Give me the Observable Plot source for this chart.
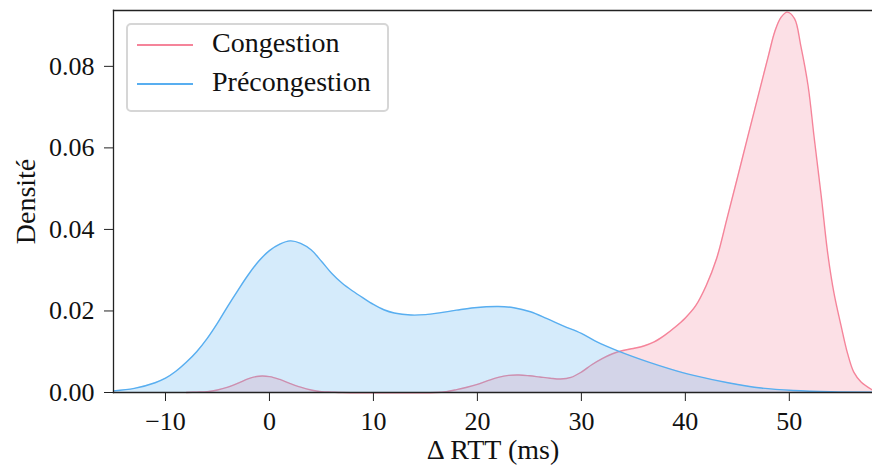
<!DOCTYPE html>
<html>
<head>
<meta charset="utf-8">
<script src="https://cdn.jsdelivr.net/npm/d3@7"></script>
<script src="https://cdn.jsdelivr.net/npm/@observablehq/plot@0.6"></script>
<style>
  body { margin: 0; background: #fff; }
  #wrap { position: relative; width: 872px; height: 475px; font-family: "Liberation Serif", "DejaVu Serif", serif; }
  #legend { position: absolute; left: 126px; top: 23px; width: 259px; height: 85px;
    border: 2px solid #d6d6d6; border-radius: 5px; background: rgba(255,255,255,0.85); }
  .swatch { position: absolute; left: 9px; width: 56px; height: 1.5px; }
  .lab { position: absolute; left: 84px; font-size: 28px; line-height: 28px; color: #111; white-space: nowrap; }
</style>
</head>
<body>
<div id="wrap"></div>
<script>
// Series names
const seriesNames = ["Congestion", "Précongestion"];
const seriesColors = ["#f5849a", "#58aef0"];

// Congestion KDE (x in ms, density)
const congX = [-8, -7, -6, -5, -4, -3, -2, -1, 0, 1, 2, 3, 4, 5, 6, 7, 16, 17, 18, 19, 20, 21, 22, 23, 24, 25, 26, 27, 28, 29, 30, 31, 32, 33, 34, 35, 36, 37, 38, 39, 40, 41, 42, 43, 44, 45, 46, 47, 48, 48.6, 49.2, 49.8, 50.5, 51.1, 51.8, 52.4, 53.1, 53.7, 54.3, 55.0, 55.6, 56.2, 56.9, 58];
const congD = [0, 0.0001, 0.0002, 0.0006, 0.0013, 0.0023, 0.0034, 0.0040, 0.0039, 0.0032, 0.0022, 0.0013, 0.0006, 0.0002, 0.0001, 0, 0, 0.0002, 0.0007, 0.0013, 0.0020, 0.0029, 0.0037, 0.0042, 0.0043, 0.0041, 0.0038, 0.0035, 0.0033, 0.0037, 0.0050, 0.0068, 0.0083, 0.0095, 0.0103, 0.0108, 0.0114, 0.0124, 0.0140, 0.0160, 0.0183, 0.0213, 0.0262, 0.0328, 0.0426, 0.0526, 0.0627, 0.0727, 0.0827, 0.0885, 0.0920, 0.0933, 0.0917, 0.0851, 0.0753, 0.0623, 0.0475, 0.0340, 0.0243, 0.0161, 0.0096, 0.0050, 0.0026, 0.0006];

// Précongestion KDE
const precX = [-15, -13, -11, -10, -9, -8, -7, -6, -5, -4, -3, -2, -1, 0, 1, 2, 3, 4, 5, 6, 7, 8, 9, 10, 11, 12, 13.6, 15, 16.5, 18, 19.7, 22, 23.5, 25.1, 26.7, 28.3, 30, 31.5, 33.5, 36.4, 38.5, 40.8, 44.1, 47.3, 50.4, 54, 58];
const precD = [0.0004, 0.0010, 0.0024, 0.0035, 0.0052, 0.0074, 0.0100, 0.0132, 0.0170, 0.0212, 0.0252, 0.0290, 0.0323, 0.0348, 0.0364, 0.0372, 0.0366, 0.0350, 0.0322, 0.0292, 0.0268, 0.0249, 0.0232, 0.0216, 0.0203, 0.0195, 0.0190, 0.0191, 0.0196, 0.0202, 0.0208, 0.0211, 0.0208, 0.0198, 0.0181, 0.0163, 0.0145, 0.0124, 0.0102, 0.0075, 0.0058, 0.0042, 0.0024, 0.0011, 0.0005, 0.0002, 0.0001];

// Ticks
const xTicks = [-10, 0, 10, 20, 30, 40, 50];
const yTicks = [0, 0.02, 0.04, 0.06, 0.08];
const xLabel = "Δ RTT (ms)";
const yLabel = "Densité";

const cong = congX.map((x, i) => ({x, d: congD[i]}));
const prec = precX.map((x, i) => ({x, d: precD[i]}));

const FONT = '"Liberation Serif", "DejaVu Serif", serif';
const curve = "catmull-rom";

const chart = Plot.plot({
  width: 872,
  height: 475,
  marginLeft: 113,
  marginRight: 0,
  marginTop: 10,
  marginBottom: 83,
  style: { fontFamily: FONT, fontSize: "26px", color: "#111", background: "#fff" },
  x: { domain: [-15, 58] },
  y: { domain: [0, 0.0937] },
  marks: [
    Plot.areaY(cong, { x: "x", y: "d", fill: seriesColors[0], fillOpacity: 0.25, curve }),
    Plot.lineY(cong, { x: "x", y: "d", stroke: seriesColors[0], strokeWidth: 1.4, curve }),
    Plot.areaY(prec, { x: "x", y: "d", fill: seriesColors[1], fillOpacity: 0.25, curve }),
    Plot.lineY(prec, { x: "x", y: "d", stroke: seriesColors[1], strokeWidth: 1.4, curve }),
    Plot.frame({ anchor: "top", stroke: "#222", strokeWidth: 1.3 }),
    Plot.frame({ anchor: "left", stroke: "#222", strokeWidth: 1.3 }),
    Plot.frame({ anchor: "bottom", stroke: "#222", strokeWidth: 1.3 }),
    Plot.axisX(xTicks, { tickSize: 9, tickPadding: 10, label: null, stroke: "#222" }),
    Plot.axisY(yTicks, { tickSize: 9, tickPadding: 10, tickFormat: d3.format(".2f"), label: null, stroke: "#222" }),
    Plot.text([xLabel], { frameAnchor: "bottom", dy: 58, lineAnchor: "middle", textAnchor: "middle", text: d => d, fontSize: 28, fill: "#111" }),
    Plot.text([yLabel], { frameAnchor: "left", dx: -87, rotate: -90, lineAnchor: "middle", textAnchor: "middle", text: d => d, fontSize: 28, fill: "#111" })
  ]
});

const wrap = document.getElementById("wrap");
wrap.appendChild(chart);

// Legend overlay
const legend = document.createElement("div");
legend.id = "legend";
seriesNames.forEach((name, i) => {
  const top = 19 + i * 39;
  const sw = document.createElement("div");
  sw.className = "swatch";
  sw.style.top = top + "px";
  sw.style.background = seriesColors[i];
  legend.appendChild(sw);
  const lab = document.createElement("div");
  lab.className = "lab";
  lab.style.top = (top - 15) + "px";
  lab.textContent = name;
  legend.appendChild(lab);
});
wrap.appendChild(legend);
</script>
</body>
</html>
